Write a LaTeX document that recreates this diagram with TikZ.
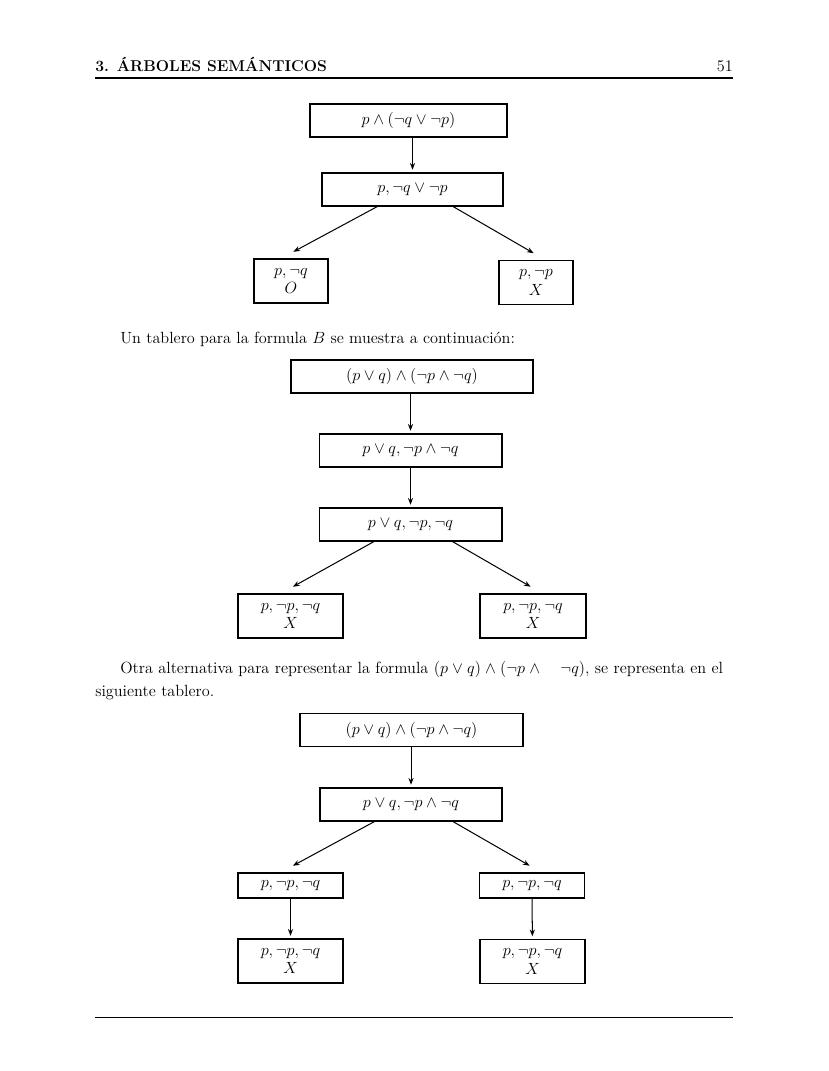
\documentclass[tikz,border=0pt]{standalone}
\usepackage{amsmath,amssymb}
\usetikzlibrary{arrows.meta}

\begin{document}
\begin{tikzpicture}[
      x=0.7391pt,y=-0.7391pt,
      font=\fontsize{12}{17}\selectfont,
      caja/.style={draw,line width=0.8pt,inner sep=0pt,align=center,font=\fontsize{12}{14}\selectfont},
      fila/.style={caja,minimum height=24.4pt},
      hoja/.style={caja,minimum height=32.5pt},
      hojab/.style={caja,minimum width=77.6pt,minimum height=18.5pt},
      arr/.style={-{Stealth[length=5pt,width=3.8pt]},line width=0.75pt,shorten >=2pt},
      texto/.style={inner sep=0pt,anchor=base west}
    ]
    \useasboundingbox (0,0) rectangle (828,1071);
    % cabecera
    \node[texto,font=\fontsize{11.6}{14}\selectfont\bfseries] (cab) at (95,72) {3. ÁRBOLES SEMÁNTICOS};
    \node[inner sep=0pt,anchor=base east] (pag) at (733,72) {51};
    \draw[line width=0.8pt] (95,78) -- (733,78);
    % primer arbol
    \node[fila,minimum width=145.6pt] (a1) at (408.5,120.5) {$p\wedge(\neg q\vee\neg p)$};
    \node[fila,minimum width=133.8pt] (a2) at (412.5,189.5) {$p,\neg q\vee\neg p$};
    \node[hoja,minimum width=54.7pt] (a3) at (291,281) {$p,\neg q$\\$O$};
    \node[hoja,minimum width=54.7pt] (a4) at (536,282.5) {$p,\neg p$\\$X$};
    \draw[arr] (a1.south -| a2.north) -- (a2.north);
    \draw[arr] ([xshift=-26pt]a2.south) -- ([yshift=4pt]a3.north);
    \draw[arr] ([xshift=30pt]a2.south) -- ([yshift=4pt]a4.north);
    \node[texto] (t1) at (120,343) {Un tablero para la formula $B$ se muestra a continuación:};
    % segundo arbol
    \node[fila,minimum width=178.9pt] (b1) at (412,376.5) {$(p\vee q)\wedge(\neg p\wedge\neg q)$};
    \node[fila,minimum width=135.2pt] (b2) at (410.5,450.5) {$p\vee q,\neg p\wedge\neg q$};
    \node[fila,minimum width=135.2pt] (b3) at (410.5,524.5) {$p\vee q,\neg p,\neg q$};
    \node[hoja,minimum width=77.6pt] (b4) at (290.5,616) {$p,\neg p,\neg q$\\$X$};
    \node[hoja,minimum width=78.3pt] (b5) at (533,616) {$p,\neg p,\neg q$\\$X$};
    \draw[arr] (b1.south -| b2.north) -- (b2.north);
    \draw[arr] (b2) -- (b3);
    \draw[arr] ([xshift=-27pt]b3.south) -- ([yshift=4pt]b4.north);
    \draw[arr] ([xshift=31pt]b3.south) -- ([yshift=4pt]b5.north);
    \node[inner sep=0pt,anchor=north west,text width=471.5pt] (t2) at (95,661)
      {\hspace*{18.5pt}Otra alternativa para representar la formula $(p\vee q)\wedge(\neg p\wedge\quad\neg q)$, se representa en el\linebreak siguiente tablero.};
    % tercer arbol
    \node[fila,minimum width=164.8pt] (c1) at (411.5,730) {$(p\vee q)\wedge(\neg p\wedge\neg q)$};
    \node[fila,minimum width=134.5pt] (c2) at (411,804.5) {$p\vee q,\neg p\wedge\neg q$};
    \node[hojab] (c3) at (290.5,885.5) {$p,\neg p,\neg q$};
    \node[hojab] (c4) at (532,885.5) {$p,\neg p,\neg q$};
    \node[hoja,minimum width=77.6pt] (c5) at (290.5,961) {$p,\neg p,\neg q$\\$X$};
    \node[hoja,minimum width=77.6pt] (c6) at (532.5,961.5) {$p,\neg p,\neg q$\\$X$};
    \draw[arr] (c1.south -| c2.north) -- (c2.north);
    \draw[arr] ([xshift=-27pt]c2.south) -- ([yshift=4pt]c3.north);
    \draw[arr] ([xshift=31pt]c2.south) -- ([yshift=4pt]c4.north);
    \draw[arr] (c3) -- (c5);
    \draw[arr] (c4) -- (c6);
    % pie
    \draw[line width=0.4pt] (95,1017) -- (733,1017);
  \end{tikzpicture}
\end{document}
